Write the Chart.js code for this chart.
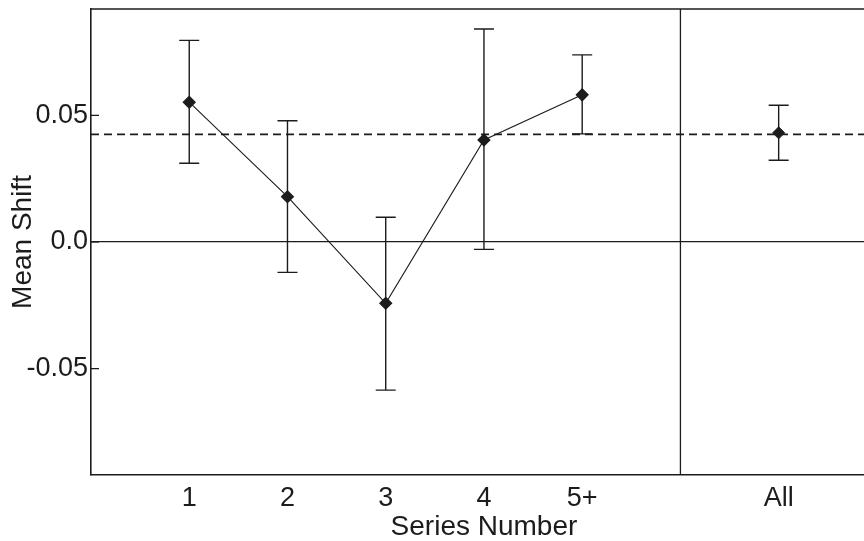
<!DOCTYPE html>
<html>
<head>
<meta charset="utf-8">
<script src="https://cdn.jsdelivr.net/npm/chart.js@4"></script>
<style>
  html, body { margin: 0; padding: 0; background: #fff; overflow: hidden; }
  /* plot runs a little past the right edge of the picture, as in the scan */
  #wrap { width: 884px; height: 541px; position: relative; }
</style>
</head>
<body>
<div id="wrap"><canvas id="chart"></canvas></div>
<script>
// Data
const categories = ['1', '2', '3', '4', '5+', 'All'];
const xPositions = [1, 2, 3, 4, 5, 7];   // "All" sits past the divider
const means = [0.0552, 0.0179, -0.0242, 0.0403, 0.0581, 0.0431];
const upper = [0.0796, 0.0479, 0.0098, 0.0841, 0.0739, 0.0540];
const lower = [0.0311, -0.0120, -0.0585, -0.0029, 0.0427, 0.0323];
const overallMean = 0.0425;
const dividerAt = 6;
const yTicks = [-0.05, 0, 0.05];
const yTickLabels = ['-0.05', '0.0', '0.05'];

const ink = '#1c1c1c';
const family = '"Liberation Sans", Arial, Helvetica, sans-serif';
const tickFont = { family: family, size: 27 };
const titleFont = { family: family, size: 28, lineHeight: 1 };

// series 1..5+ are joined, "All" stands alone
const seriesPts = means.slice(0, 5).map((m, i) => ({ x: xPositions[i], y: m }));
const allPts = [{ x: xPositions[5], y: means[5] }];

// frame, divider, inward ticks and error bars
const framePlugin = {
    id: 'frame',
    beforeDatasetsDraw(chart) {
        const { ctx, chartArea: a, scales: { x, y } } = chart;
        ctx.save();
        ctx.strokeStyle = ink;

        // top edge
        ctx.lineWidth = 1.5;
        ctx.beginPath();
        ctx.moveTo(a.left, a.top);
        ctx.lineTo(a.right, a.top);
        ctx.stroke();

        // divider before "All"
        const dx = x.getPixelForValue(dividerAt);
        ctx.lineWidth = 1.3;
        ctx.beginPath();
        ctx.moveTo(dx, a.top);
        ctx.lineTo(dx, a.bottom);
        ctx.stroke();

        // inward y tick marks
        yTicks.forEach(v => {
            const py = y.getPixelForValue(v);
            ctx.beginPath();
            ctx.moveTo(a.left, py);
            ctx.lineTo(a.left + 8, py);
            ctx.stroke();
        });

        // error bars
        ctx.lineWidth = 1.4;
        means.forEach((m, i) => {
            const px = x.getPixelForValue(xPositions[i]);
            const pt = y.getPixelForValue(upper[i]);
            const pb = y.getPixelForValue(lower[i]);
            ctx.beginPath();
            ctx.moveTo(px, pt);
            ctx.lineTo(px, pb);
            ctx.moveTo(px - 10, pt);
            ctx.lineTo(px + 10, pt);
            ctx.moveTo(px - 10, pb);
            ctx.lineTo(px + 10, pb);
            ctx.stroke();
        });
        ctx.restore();
    }
};

// drop the label overhang padding Chart.js adds at the axis ends
function noOverhang(s) {
    s.paddingTop = 0;
    s.paddingBottom = 0;
    s.paddingLeft = 0;
    s.paddingRight = 0;
}

new Chart(document.getElementById('chart'), {
    type: 'line',
    data: {
        datasets: [
            {
                data: seriesPts,
                borderColor: ink,
                borderWidth: 1.1,
                pointStyle: 'rectRot',
                pointRadius: 6,
                pointBackgroundColor: ink,
                pointBorderColor: ink,
                tension: 0
            },
            {
                data: allPts,
                showLine: false,
                pointStyle: 'rectRot',
                pointRadius: 6,
                pointBackgroundColor: ink,
                pointBorderColor: ink
            },
            {
                data: [{ x: 0, y: overallMean }, { x: 9, y: overallMean }],
                borderColor: ink,
                borderWidth: 1.6,
                borderDash: [8, 5],
                pointRadius: 0
            }
        ]
    },
    options: {
        responsive: true,
        maintainAspectRatio: false,
        animation: false,
        layout: { padding: { top: 9, right: 0, left: 0, bottom: 0 } },
        plugins: { legend: { display: false }, tooltip: { enabled: false } },
        scales: {
            x: {
                type: 'linear',
                min: 0,
                max: 8.0,
                afterBuildTicks: s => { s.ticks = xPositions.map(v => ({ value: v })); },
                afterFit: s => { s.height = 66; noOverhang(s); },
                ticks: {
                    callback: (v, i) => categories[i],
                    autoSkip: false,
                    maxRotation: 0,
                    padding: 7,
                    color: ink,
                    font: tickFont
                },
                grid: { display: false, drawTicks: false },
                border: { display: true, color: ink, width: 1.6 },
                title: {
                    display: true,
                    text: 'Series Number',
                    color: ink,
                    font: titleFont,
                    padding: { top: 0, bottom: 0 }
                }
            },
            y: {
                min: -0.092,
                max: 0.092,
                afterBuildTicks: s => { s.ticks = yTicks.map(v => ({ value: v })); },
                afterFit: s => { s.width = 91; noOverhang(s); },
                ticks: {
                    callback: (v, i) => yTickLabels[i],
                    padding: 3,
                    color: ink,
                    font: tickFont
                },
                grid: {
                    drawTicks: false,
                    color: c => (c.tick && c.tick.value === 0 ? ink : 'rgba(0,0,0,0)'),
                    lineWidth: 1.3
                },
                border: { display: true, color: ink, width: 1.6 },
                title: {
                    display: true,
                    text: 'Mean Shift',
                    color: ink,
                    font: titleFont,
                    padding: { top: 9, bottom: 0 }
                }
            }
        }
    },
    plugins: [framePlugin]
});
</script>
</body>
</html>
